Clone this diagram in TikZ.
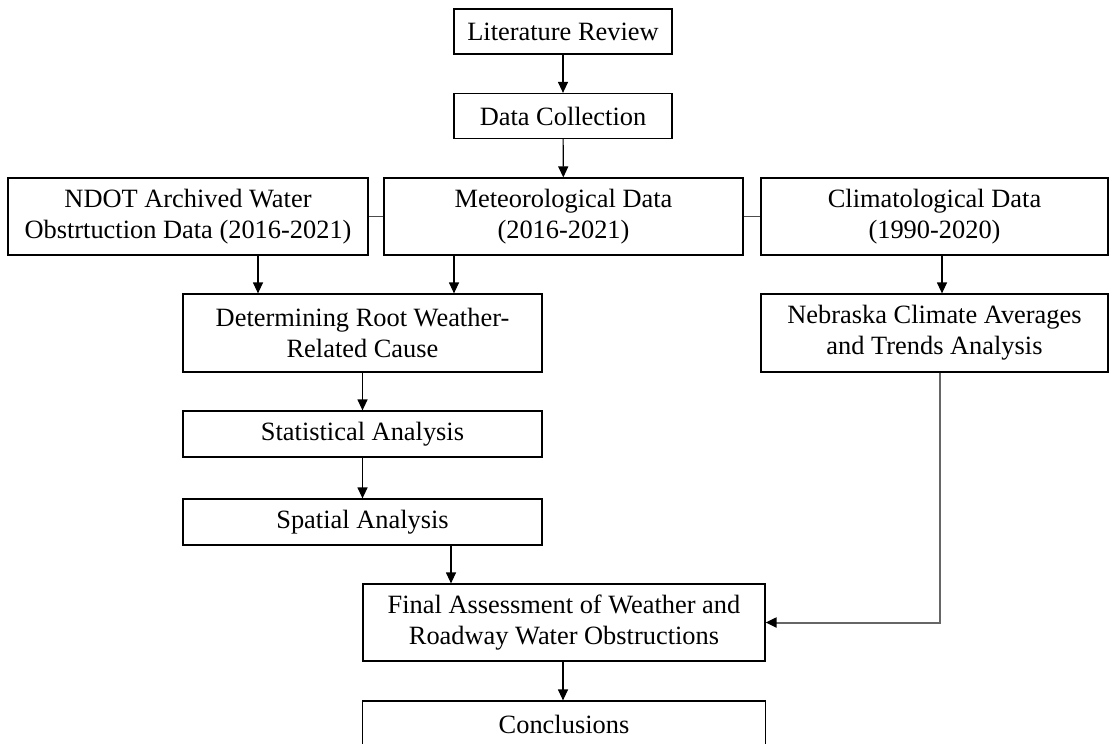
\documentclass[tikz,border=0pt]{standalone}
\usepackage{fontspec}
\setmainfont{Liberation Serif}
\usepackage{tikz}
\usetikzlibrary{calc}
\usetikzlibrary{positioning}
\usetikzlibrary{arrows.meta}

\begin{document}
\begin{tikzpicture}[x=0.5pt, y=-0.5pt,
    box/.style={rectangle, draw=black, line width=0.6pt, align=center, inner sep=0pt,
                font=\fontsize{13.2}{15.4}\selectfont},
    small/.style={box, minimum height=22.5pt},
    tall/.style={box, minimum height=38.5pt},
    arr/.style={-{Triangle[width=5pt,length=5.5pt,color=black]}, line width=0.6pt},
    link/.style={draw=black!70, line width=0.9pt}]
    \useasboundingbox (0,0) rectangle (1109,744);
    \node[small, minimum width=109pt] (lit) at (563, 31.5) {Literature Review};
    \node[small, minimum width=109pt] (data) at (563, 116) {Data Collection};
    \node[tall, minimum width=180pt] (ndot) at (188, 216.5) {NDOT Archived Water\\Obstrtuction Data (2016-2021)};
    \node[tall, minimum width=179.5pt] (met) at (563.5, 216.5) {Meteorological Data\\(2016-2021)};
    \node[tall, minimum width=173.5pt] (clim) at (934.5, 216.5) {Climatological Data\\(1990-2020)};
    \node[tall, minimum width=179.5pt, minimum height=39pt] (root) at (362.5, 333) {Determining Root Weather-\\Related Cause};
    \node[tall, minimum width=173.5pt, minimum height=39pt] (neb) at (934.5, 333) {Nebraska Climate Averages\\and Trends Analysis};
    \node[small, minimum width=179.5pt, minimum height=23pt] (stat) at (362.5, 434) {Statistical Analysis};
    \node[small, minimum width=179.5pt, minimum height=23pt] (spat) at (362.5, 522) {Spatial Analysis};
    \node[tall, minimum width=201pt] (final) at (564, 622.5) {Final Assessment of Weather and\\Roadway Water Obstructions};
    \node[small, minimum width=201.5pt, minimum height=23pt] (concl) at (564, 724) {Conclusions};

    % top chain
    \draw[arr] (lit) -- (data);
    \draw[arr] (data) -- (met);
    \draw[link] (ndot) -- (met);
    \draw[link] (met) -- (clim);

    % into root cause and climate
    \draw[arr] (ndot.south -| 258,0) -- (root.north -| 258,0);
    \draw[arr] (met.south -| 454,0) -- (root.north -| 454,0);
    \draw[arr] (clim.south -| 942,0) -- (neb.north -| 942,0);

    % analysis chain
    \draw[arr] (root) -- (stat);
    \draw[arr] (stat) -- (spat);
    \draw[arr] (spat.south -| 451,0) -- (final.north -| 451,0);
    \draw[arr, draw=black!60, line width=1pt] (neb.south -| 940,0) |- (final.east);
    \draw[arr] (final.south -| 563,0) -- (concl.north -| 563,0);
\end{tikzpicture}
\end{document}
